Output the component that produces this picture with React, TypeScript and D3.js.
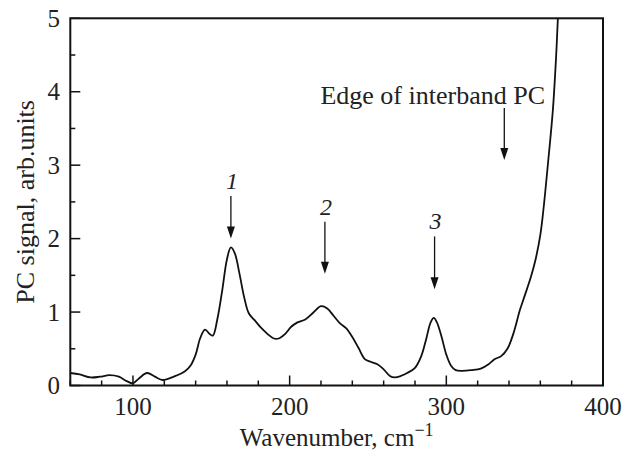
import * as d3 from 'd3';

// spectrum
const wavenumber = [
  60, 66, 73, 79, 85, 91, 96, 100, 104, 109, 114, 119, 126, 133, 137, 140, 143, 146, 149, 151,
  154, 157, 160, 162.5, 165, 168, 171, 174, 178, 182, 186, 190, 193, 197, 201, 205, 210, 215, 220,
  224, 228, 232, 236, 240, 244, 248, 252, 256, 260, 264, 267, 271, 275, 280, 284, 287, 290, 292,
  294, 297, 300, 303, 306, 310, 316, 322, 327, 331, 335, 339, 343, 347, 350, 354, 357, 360, 362,
  365, 368, 370, 371.2,
];
const signal = [
  0.17, 0.15, 0.11, 0.12, 0.14, 0.12, 0.06, 0.03, 0.1, 0.17, 0.12, 0.075, 0.12, 0.19, 0.28, 0.42,
  0.65, 0.76, 0.7, 0.68, 0.92, 1.3, 1.72, 1.88, 1.8, 1.52, 1.2, 0.98, 0.88, 0.78, 0.7, 0.64, 0.64,
  0.7, 0.8, 0.86, 0.9, 0.99, 1.08, 1.05, 0.95, 0.85, 0.78, 0.66, 0.51, 0.36, 0.32, 0.29, 0.22, 0.13,
  0.11, 0.13, 0.17, 0.24, 0.4, 0.62, 0.86, 0.92, 0.86, 0.66, 0.42, 0.27, 0.21, 0.2, 0.21, 0.23,
  0.29, 0.36, 0.4, 0.5, 0.72, 1.03, 1.22, 1.48, 1.72, 2.05, 2.4, 3.05, 3.75, 4.45, 5.0,
];

const xMajor = [100, 200, 300, 400];
const xMinor = d3.range(60, 401, 20);
const yMajor = [0, 1, 2, 3, 4, 5];
const yMinor = d3.range(0, 5.01, 0.5);

// arrows: label, x position, top and bottom of arrow in data units
const peaks = [
  { label: '1', x: 162.5, y0: 2.58, y1: 2.0 },
  { label: '2', x: 222.5, y0: 2.23, y1: 1.52 },
  { label: '3', x: 292.5, y0: 2.03, y1: 1.31 },
];
const edge = { label: 'Edge of interband PC', x: 337, y0: 3.78, y1: 3.07 };

const W = 624, H = 454;
const m = { left: 70.3, right: 21, top: 18.3, bottom: 68.5 };
const font = 'Liberation Serif, Times New Roman, Times, serif';

export default function App() {
  const x = d3.scaleLinear().domain([60, 400]).range([m.left, W - m.right]);
  const y = d3.scaleLinear().domain([0, 5]).range([H - m.bottom, m.top]);
  const pts = wavenumber.map((w, i) => [w, signal[i]] as [number, number]);
  const line = d3.line<[number, number]>()
    .x(d => x(d[0]))
    .y(d => y(d[1]))
    .curve(d3.curveCatmullRom.alpha(0.5));

  const arrow = (px: number, ya: number, yb: number, key: string) => {
    const t = y(ya), b = y(yb);
    return (
      <g key={key}>
        <line x1={px} x2={px} y1={t} y2={b - 10} stroke="#111" strokeWidth={1.3} />
        <path d={`M${px - 4},${b - 12} L${px + 4},${b - 12} L${px},${b} Z`} fill="#111" />
      </g>
    );
  };

  return (
    <svg width={W} height={H} style={{ position: 'absolute', left: 0, top: 0, background: '#fff', fontFamily: font }}>
      <defs>
        <clipPath id="plot">
          <rect x={m.left} y={m.top} width={W - m.left - m.right} height={H - m.top - m.bottom} />
        </clipPath>
      </defs>
      <path d={line(pts) || ''} fill="none" stroke="#111" strokeWidth={1.8} clipPath="url(#plot)" />
      <rect x={m.left} y={m.top} width={W - m.left - m.right} height={H - m.top - m.bottom}
        fill="none" stroke="#111" strokeWidth={2} />
      {xMinor.map(v => (
        <line key={'xm' + v} x1={x(v)} x2={x(v)} y1={y(0)} y2={y(0) - (xMajor.includes(v) ? 10 : 5)}
          stroke="#111" strokeWidth={1.5} />
      ))}
      {yMinor.map(v => (
        <line key={'ym' + v} x1={x(60)} x2={x(60) + (v % 1 === 0 ? 10 : 5)} y1={y(v)} y2={y(v)}
          stroke="#111" strokeWidth={1.5} />
      ))}
      {xMajor.map(v => (
        <text key={'xl' + v} x={x(v)} y={415} fontSize={25} textAnchor="middle" fill="#222">{v}</text>
      ))}
      {yMajor.map(v => (
        <text key={'yl' + v} x={60} y={y(v) + 8.5} fontSize={25} textAnchor="end" fill="#222">{v}</text>
      ))}
      <text x={(m.left + W - m.right) / 2} y={446} fontSize={25} textAnchor="middle" fill="#222">
        Wavenumber, cm<tspan fontSize={18} dy={-10}>−1</tspan>
      </text>
      <text transform={`translate(34,${(m.top + H - m.bottom) / 2}) rotate(-90)`} fontSize={26}
        textAnchor="middle" fill="#222">PC signal, arb.units</text>
      {peaks.map(p => (
        <g key={p.label}>
          <text x={x(p.x) + 1} y={y(p.y0) - 7} fontSize={24} fontStyle="italic" textAnchor="middle"
            fill="#222">{p.label}</text>
          {arrow(x(p.x), p.y0, p.y1, 'a' + p.label)}
        </g>
      ))}
      <text x={545} y={104.3} fontSize={26} textAnchor="end" fill="#222">{edge.label}</text>
      {arrow(x(edge.x), edge.y0, edge.y1, 'edge')}
    </svg>
  );
}
